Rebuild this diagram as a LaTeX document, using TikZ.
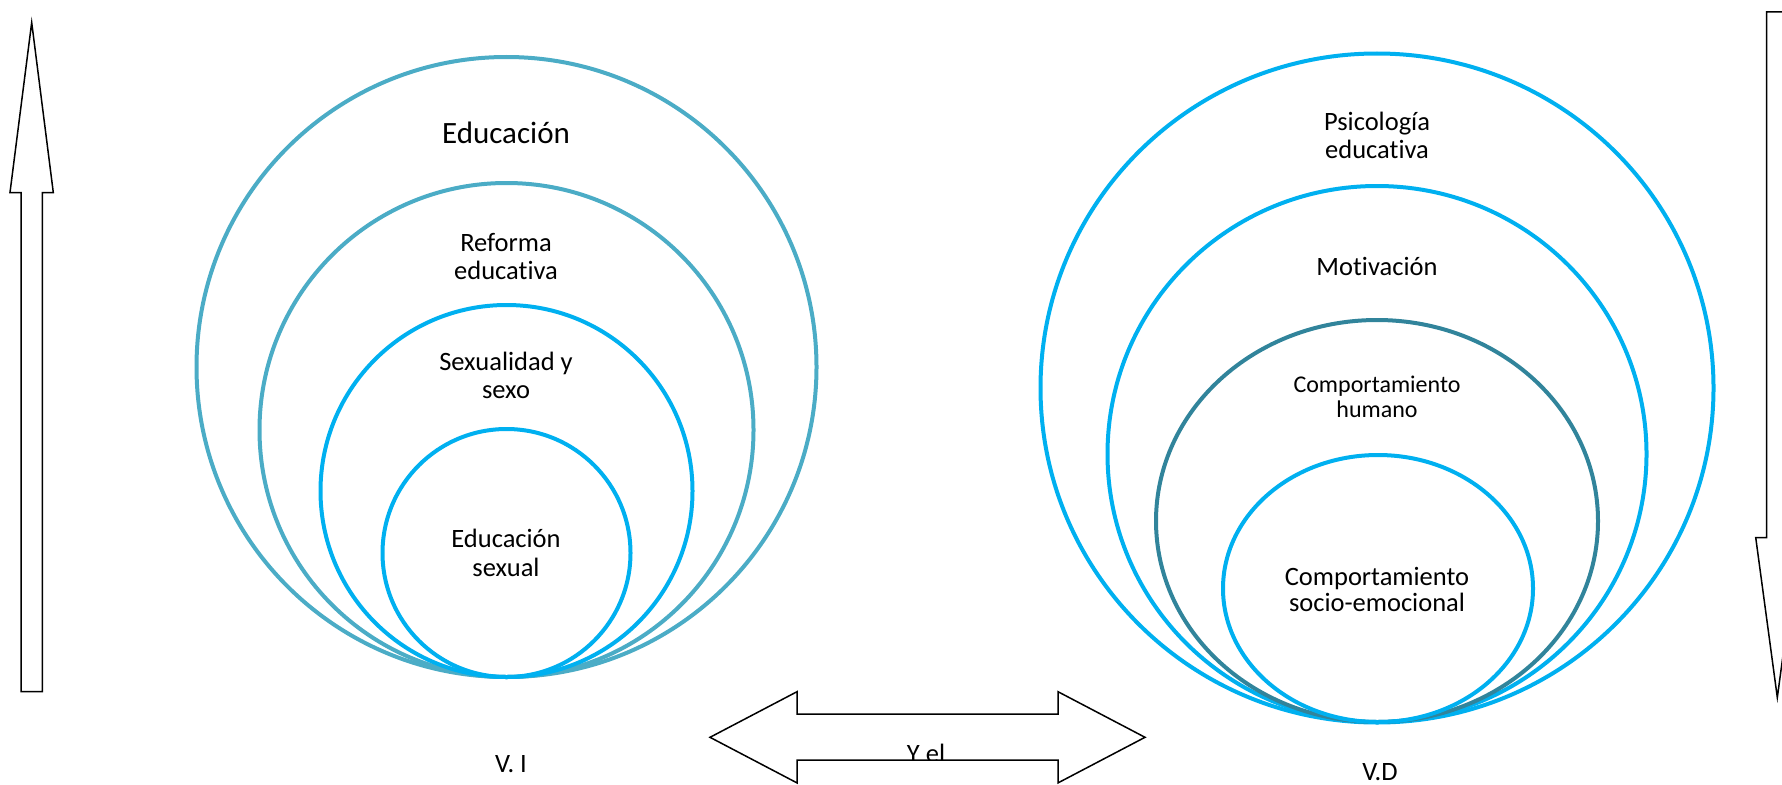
\documentclass[tikz,border=0pt]{standalone}
\usepackage{fontspec}
\setmainfont{Carlito}[Ligatures=NoCommon]
\usetikzlibrary{shapes.geometric}
\definecolor{tealA}{HTML}{4BACC6}
\definecolor{skyB}{HTML}{00B0F0}
\definecolor{tealD}{HTML}{31849B}
\begin{document}
\begin{tikzpicture}[x=1pt,y=-1pt,
  ring/.style={circle, draw=#1, line width=4pt, inner sep=0pt},
  oval/.style={ellipse, draw=#1, line width=4pt, inner sep=0pt},
  lbl/.style={anchor=base, inner sep=0pt, font=\fontsize{26.5}{28}\selectfont},
  lblsmall/.style={anchor=base, inner sep=0pt, font=\fontsize{24}{26}\selectfont},
  lblbig/.style={anchor=base, inner sep=0pt, font=\fontsize{31}{34}\selectfont},
  blockarrow/.style={draw=black, line width=1.5pt, fill=white, line join=miter}]
\useasboundingbox (0,0) rectangle (1782,784);

% ---------- left nest (V. I) ----------
\node[ring=tealA, minimum size=620pt] (L1) at (506.5,367) {};
\node[ring=tealA, minimum size=494pt] (L2) at (506.5,430) {};
\node[ring=skyB,  minimum size=372pt] (L3) at (506.5,491) {};
\node[ring=skyB,  minimum size=248pt] (L4) at (506.5,553) {};

\node[lblbig] (tEdu) at (506,143) {Educación};
\node[lbl] (tRef1) at (506,251) {Reforma};
\node[lbl] (tRef2) at (506,279) {educativa};
\node[lbl] (tSex1) at (506,370) {Sexualidad y};
\node[lbl] (tSex2) at (506,398) {sexo};
\node[lbl] (tEs1) at (506,547) {Educación};
\node[lbl] (tEs2) at (506,576) {sexual};

% ---------- right nest (V.D) ----------
\node[oval=skyB,  minimum width=673pt, minimum height=669pt] (R1) at (1377,388) {};
\node[oval=skyB,  minimum width=539pt, minimum height=536pt] (R2) at (1377,454) {};
\node[oval=tealD, minimum width=442pt, minimum height=402pt] (R3) at (1377,521) {};
\node[oval=skyB,  minimum width=310pt, minimum height=267pt] (R4) at (1378,588.5) {};

\node[lbl] (tPs1) at (1377,130) {Psicología};
\node[lbl] (tPs2) at (1377,158) {educativa};
\node[lbl] (tMot) at (1377,275) {Motivación};
\node[lblsmall] (tCh1) at (1377,392) {Comportamiento};
\node[lblsmall] (tCh2) at (1377,417) {humano};
\node[lbl] (tCs1) at (1377,585) {Comportamiento};
\node[lbl] (tCs2) at (1377,611) {socio-emocional};

% ---------- block arrows ----------
\draw[blockarrow] (31.7,22.5) -- (53.3,192.5) -- (42.3,192.5) -- (42.3,691.5)
   -- (21,691.5) -- (21,192.5) -- (10,192.5) -- cycle;
\draw[blockarrow] (1766.7,12) -- (1788,12) -- (1788,537.5) -- (1798.9,537.5)
   -- (1777.3,697.5) -- (1755.7,537.5) -- (1766.7,537.5) -- cycle;
\draw[blockarrow] (710,737.3) -- (797,691.7) -- (797,714) -- (1058,714) -- (1058,691.7)
   -- (1145,737.3) -- (1058,782.9) -- (1058,760) -- (797,760) -- (797,782.9) -- cycle;

\begin{scope}
  \clip (800,715) rectangle (1055,759.3);
  \node[lbl] (tYel) at (926,762) {Y el};
\end{scope}

\node[lbl] (tVI) at (511,772) {V. I};
\node[lbl] (tVD) at (1380,780) {V.D};
\end{tikzpicture}
\end{document}
